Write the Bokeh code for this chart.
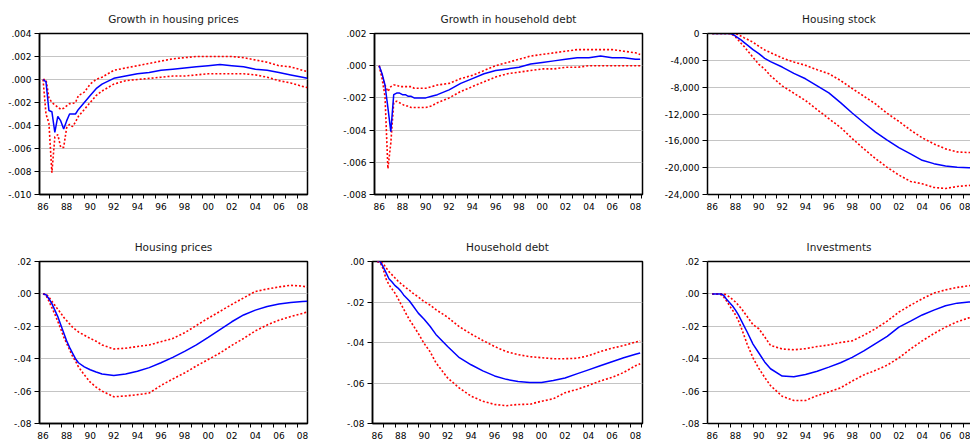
from bokeh.plotting import figure
from bokeh.models import FixedTicker, Range1d, LinearAxis
from bokeh.layouts import row, column
from bokeh.embed import file_html
from bokeh.resources import INLINE

TICK_FONT = "DejaVu Sans"
TITLE_FONT = "DejaVu Sans"

# ---------------- data ----------------
PERIODS = [1986.00, 1986.25, 1986.50, 1986.75, 1987.00, 1987.25, 1987.50, 1987.75,
           1988.00, 1988.25, 1988.50, 1988.75, 1989.00, 1989.50, 1990.00, 1990.50,
           1991.00, 1992.0, 1993.0, 1994.0, 1995.0, 1996.0, 1997.0, 1998.0, 1999.0,
           2000.0, 2001.0, 2002.0, 2003.0, 2004.0, 2005.0, 2006.0, 2007.0, 2008.0, 2008.4]

YEAR_TICKS = [1986, 1988, 1990, 1992, 1994, 1996, 1998, 2000, 2002, 2004, 2006, 2008]
YEAR_LABELS = ["86", "88", "90", "92", "94", "96", "98", "00", "02", "04", "06", "08"]
ALL_YEARS = list(range(1986, 2009))

# Growth in housing prices
GHP_IRF = [0.0000, -0.0002, -0.0027, -0.0028, -0.0046, -0.0032, -0.0036, -0.0043, -0.0036,
           -0.0030, -0.0030, -0.0030, -0.0026, -0.0020, -0.0014, -0.0008, -0.0004, 0.0001,
           0.0003, 0.0005, 0.0006, 0.0008, 0.0009, 0.0010, 0.0011, 0.0012, 0.0013, 0.0012,
           0.0011, 0.0009, 0.0008, 0.0006, 0.0004, 0.0002, 0.0001]
GHP_HI = [0.0000, 0.0000, -0.0016, -0.0020, -0.0022, -0.0024, -0.0026, -0.0025, -0.0023,
          -0.0021, -0.0021, -0.0020, -0.0014, -0.0011, -0.0004, 0.0000, 0.0002, 0.0008,
          0.0010, 0.0012, 0.0014, 0.0016, 0.0018, 0.0019, 0.0020, 0.0020, 0.0020, 0.0020,
          0.0019, 0.0017, 0.0015, 0.0012, 0.0011, 0.0008, 0.0007]
GHP_LO = [0.0000, -0.0030, -0.0038, -0.0081, -0.0050, -0.0048, -0.0059, -0.0059, -0.0042,
          -0.0039, -0.0041, -0.0037, -0.0032, -0.0026, -0.0020, -0.0014, -0.0010, -0.0004,
          -0.0001, 0.0000, 0.0001, 0.0002, 0.0003, 0.0003, 0.0004, 0.0005, 0.0005, 0.0005,
          0.0005, 0.0004, 0.0002, -0.0001, -0.0003, -0.0006, -0.0007]
GHP_TICKS = [0.004, 0.002, 0.0, -0.002, -0.004, -0.006, -0.008, -0.010]
GHP_LABELS = [".004", ".002", ".000", "-.002", "-.004", "-.006", "-.008", "-.010"]

# Growth in household debt
GHD_IRF = [0.0000, -0.0005, -0.0012, -0.0026, -0.0041, -0.0018, -0.0017, -0.0017, -0.0018,
           -0.0018, -0.0019, -0.0019, -0.0020, -0.0020, -0.0020, -0.0019, -0.0018, -0.0015,
           -0.0011, -0.0008, -0.0005, -0.0003, -0.0002, -0.0001, 0.0001, 0.0002, 0.0003,
           0.0004, 0.0005, 0.0005, 0.0006, 0.0005, 0.0005, 0.0004, 0.0004]
GHD_HI = [0.0000, -0.0006, -0.0012, -0.0016, -0.0013, -0.0012, -0.0012, -0.0013, -0.0013,
          -0.0013, -0.0013, -0.0013, -0.0014, -0.0014, -0.0014, -0.0013, -0.0012, -0.0011,
          -0.0008, -0.0006, -0.0003, 0.0000, 0.0002, 0.0004, 0.0006, 0.0007, 0.0008, 0.0009,
          0.0010, 0.0010, 0.0010, 0.0010, 0.0009, 0.0008, 0.0007]
GHD_LO = [0.0000, -0.0008, -0.0019, -0.0064, -0.0048, -0.0023, -0.0022, -0.0023, -0.0024,
          -0.0025, -0.0025, -0.0026, -0.0026, -0.0026, -0.0026, -0.0025, -0.0023, -0.0020,
          -0.0016, -0.0013, -0.0010, -0.0007, -0.0005, -0.0004, -0.0003, -0.0002, -0.0002,
          -0.0001, -0.0001, 0.0000, 0.0000, 0.0000, 0.0000, 0.0000, 0.0000]
GHD_TICKS = [0.002, 0.0, -0.002, -0.004, -0.006, -0.008]
GHD_LABELS = [".002", ".000", "-.002", "-.004", "-.006", "-.008"]

# Housing stock
HS_IRF = [0, 0, 0, 0, 0, 0, 0, -100, -400, -700, -1000, -1350, -1700, -2400, -3000, -3700,
          -4200, -5000, -5950, -6750, -7800, -8850, -10300, -11850, -13300, -14700, -15900,
          -17000, -17950, -18900, -19400, -19750, -19950, -20000, -20000]
HS_HI = [0, 0, 0, 0, 0, 0, 0, 0, 0, -200, -400, -650, -850, -1300, -1900, -2450, -2850,
         -3650, -4250, -4750, -5400, -6000, -7000, -8200, -9350, -10500, -11900, -13100,
         -14400, -15550, -16450, -17200, -17650, -17750, -17700]
HS_LO = [0, 0, 0, 0, 0, 0, 0, -200, -500, -1000, -1500, -1950, -2500, -3550, -4600, -5300,
         -6300, -7800, -8900, -10000, -11350, -12700, -14000, -15650, -17200, -18650, -19950,
         -21100, -22050, -22400, -22950, -23100, -22800, -22650, -22600]
HS_TICKS = [0, -4000, -8000, -12000, -16000, -20000, -24000]
HS_LABELS = ["0", "-4,000", "-8,000", "-12,000", "-16,000", "-20,000", "-24,000"]

# Housing prices
HP_IRF = [0.0000, -0.0005, -0.0030, -0.0060, -0.0100, -0.0140, -0.0190, -0.0240, -0.0290,
          -0.0330, -0.0365, -0.0400, -0.0425, -0.0450, -0.0468, -0.0482, -0.0494, -0.0503,
          -0.0495, -0.0478, -0.0455, -0.0425, -0.0392, -0.0355, -0.0315, -0.0268, -0.0220,
          -0.0172, -0.0130, -0.0100, -0.0078, -0.0063, -0.0053, -0.0047, -0.0045]
HP_HI = [0.0000, 0.0000, -0.0020, -0.0045, -0.0070, -0.0095, -0.0118, -0.0145, -0.0165,
         -0.0185, -0.0205, -0.0220, -0.0235, -0.0255, -0.0275, -0.0292, -0.0315, -0.0340,
         -0.0335, -0.0325, -0.0315, -0.0295, -0.0275, -0.0240, -0.0195, -0.0150, -0.0108,
         -0.0065, -0.0025, 0.0015, 0.0030, 0.0043, 0.0053, 0.0048, 0.0042]
HP_LO = [0.0000, -0.0010, -0.0045, -0.0085, -0.0125, -0.0170, -0.0215, -0.0265, -0.0305,
         -0.0345, -0.0385, -0.0415, -0.0450, -0.0500, -0.0545, -0.0575, -0.0600, -0.0635,
         -0.0630, -0.0622, -0.0612, -0.0565, -0.0525, -0.0488, -0.0445, -0.0405, -0.0365,
         -0.0318, -0.0275, -0.0228, -0.0192, -0.0162, -0.0140, -0.0120, -0.0112]
HP_TICKS = [0.02, 0.0, -0.02, -0.04, -0.06, -0.08]
HP_LABELS = [".02", ".00", "-.02", "-.04", "-.06", "-.08"]

# Household debt
HD_IRF = [0.0000, 0.0000, -0.0025, -0.0055, -0.0085, -0.0100, -0.0118, -0.0130, -0.0145,
          -0.0165, -0.0180, -0.0195, -0.0215, -0.0255, -0.0285, -0.0320, -0.0360, -0.0420,
          -0.0475, -0.0510, -0.0540, -0.0565, -0.0582, -0.0593, -0.0597, -0.0597, -0.0588,
          -0.0575, -0.0555, -0.0535, -0.0515, -0.0495, -0.0475, -0.0458, -0.0452]
HD_HI = [0.0000, 0.0000, -0.0010, -0.0030, -0.0050, -0.0065, -0.0080, -0.0095, -0.0108,
         -0.0120, -0.0132, -0.0142, -0.0155, -0.0175, -0.0198, -0.0215, -0.0238, -0.0275,
         -0.0322, -0.0358, -0.0390, -0.0420, -0.0445, -0.0460, -0.0470, -0.0475, -0.0480,
         -0.0480, -0.0478, -0.0465, -0.0445, -0.0428, -0.0415, -0.0398, -0.0392]
HD_LO = [0.0000, -0.0005, -0.0035, -0.0085, -0.0115, -0.0135, -0.0155, -0.0180, -0.0208,
         -0.0235, -0.0262, -0.0288, -0.0310, -0.0355, -0.0405, -0.0445, -0.0500, -0.0575,
         -0.0625, -0.0665, -0.0690, -0.0706, -0.0712, -0.0706, -0.0705, -0.0690, -0.0678,
         -0.0648, -0.0632, -0.0612, -0.0590, -0.0572, -0.0548, -0.0515, -0.0505]
HD_TICKS = [0.0, -0.02, -0.04, -0.06, -0.08]
HD_LABELS = [".00", "-.02", "-.04", "-.06", "-.08"]

# Investments
INV_IRF = [0.0000, 0.0000, 0.0000, 0.0000, -0.0010, -0.0035, -0.0055, -0.0075, -0.0100,
           -0.0130, -0.0165, -0.0200, -0.0235, -0.0310, -0.0365, -0.0420, -0.0462, -0.0507,
           -0.0512, -0.0498, -0.0477, -0.0452, -0.0425, -0.0392, -0.0352, -0.0307, -0.0262,
           -0.0205, -0.0168, -0.0130, -0.0100, -0.0073, -0.0057, -0.0050, -0.0050]
INV_HI = [0.0000, 0.0000, 0.0000, 0.0000, 0.0000, -0.0008, -0.0020, -0.0035, -0.0050,
          -0.0070, -0.0090, -0.0115, -0.0140, -0.0190, -0.0215, -0.0265, -0.0318, -0.0340,
          -0.0345, -0.0338, -0.0325, -0.0315, -0.0300, -0.0290, -0.0255, -0.0215, -0.0168,
          -0.0112, -0.0070, -0.0030, 0.0005, 0.0025, 0.0040, 0.0050, 0.0055]
INV_LO = [0.0000, 0.0000, 0.0000, -0.0005, -0.0020, -0.0045, -0.0075, -0.0100, -0.0130,
          -0.0165, -0.0210, -0.0260, -0.0310, -0.0395, -0.0460, -0.0515, -0.0566, -0.0632,
          -0.0658, -0.0658, -0.0628, -0.0605, -0.0580, -0.0538, -0.0500, -0.0472, -0.0440,
          -0.0395, -0.0340, -0.0290, -0.0245, -0.0205, -0.0172, -0.0148, -0.0142]


def make_panel(title, mid, hi, lo, yticks, ylabels, xr, width, left, right, title_offset,
               height, top, bottom, standoff, cut):
    p = figure(width=width, height=height,
               x_range=Range1d(xr[0], xr[1]),
               y_range=Range1d(yticks[-1], yticks[0]),
               output_backend="svg", toolbar_location=None,
               min_border_left=left, min_border_right=right,
               min_border_top=top, min_border_bottom=bottom,
               title=title)
    p.background_fill_color = "white"
    p.border_fill_color = "white"
    p.title.text_font = TITLE_FONT
    p.title.text_font_size = "10.5px"
    p.title.text_font_style = "normal"
    p.title.text_color = "#1a1a1a"
    p.title.align = "center"
    p.title.standoff = standoff
    p.title.offset = title_offset

    # y axis
    ya = p.left[0]
    ya.ticker = FixedTicker(ticks=yticks)
    ya.major_label_overrides = {t: l for t, l in zip(yticks, ylabels)}
    ya.major_tick_out = 5
    ya.major_tick_in = 0
    ya.minor_tick_line_color = None
    ya.major_label_standoff = 3
    ya.major_label_text_font = TICK_FONT
    ya.major_label_text_font_size = "9px"
    ya.major_label_text_color = "black"
    ya.axis_line_color = "black"
    ya.axis_line_width = 1.5
    ya.major_tick_line_color = "black"
    ya.major_tick_line_width = 1

    # x axis
    xa = p.below[0]
    xa.ticker = FixedTicker(ticks=YEAR_TICKS, minor_ticks=[y + 0.55 for y in ALL_YEARS])
    xa.major_label_overrides = {t: l for t, l in zip(YEAR_TICKS, YEAR_LABELS)}
    xa.major_tick_out = 0
    xa.major_tick_in = 0
    xa.minor_tick_out = 4
    xa.minor_tick_in = 0
    xa.minor_tick_line_color = "black"
    xa.minor_tick_line_width = 1
    xa.major_label_standoff = 4
    xa.major_label_text_font = TICK_FONT
    xa.major_label_text_font_size = "9px"
    xa.major_label_text_color = "black"
    xa.axis_line_color = "black"
    xa.axis_line_width = 1.5

    p.xgrid.visible = False
    p.ygrid.grid_line_color = "#c4c4c4"
    p.ygrid.grid_line_width = 1.2

    if cut:
        p.outline_line_color = None
        top_axis = LinearAxis(ticker=FixedTicker(ticks=[]),
                              major_tick_out=0, major_tick_in=0,
                              minor_tick_out=0, minor_tick_in=0,
                              major_label_text_font_size="0px",
                              axis_line_color="black", axis_line_width=1.5)
        p.add_layout(top_axis, "above")
    else:
        p.outline_line_color = "black"
        p.outline_line_width = 1.5
        p.outline_line_alpha = 1.0

    p.line(PERIODS, hi, line_color="#ff0000", line_width=1.6, line_dash="2 2")
    p.line(PERIODS, lo, line_color="#ff0000", line_width=1.6, line_dash="2 2")
    p.line(PERIODS, mid, line_color="#0000ff", line_width=1.5)
    return p


XR1 = (1985.70, 2008.42)
XR2 = (1985.60, 2008.60)
XR3 = (1985.60, 2008.14)

# columns: (width, left border, right border, title x offset)
C1 = (340, 39, 33, 0)
C2 = (315, 32, 13, 0)
C3 = (315, 52, 0, 2.5)
# rows: (height, top border, bottom border, title standoff)
R1 = (228, 33, 34, 18)
R2 = (215, 33, 20, 18)

p1 = make_panel("Growth in housing prices", GHP_IRF, GHP_HI, GHP_LO, GHP_TICKS, GHP_LABELS,
                XR1, *C1, *R1, False)
p2 = make_panel("Growth in household debt", GHD_IRF, GHD_HI, GHD_LO, GHD_TICKS, GHD_LABELS,
                XR2, *C2, *R1, False)
p3 = make_panel("Housing stock", HS_IRF, HS_HI, HS_LO, HS_TICKS, HS_LABELS,
                XR3, *C3, *R1, True)
p4 = make_panel("Housing prices", HP_IRF, HP_HI, HP_LO, HP_TICKS, HP_LABELS,
                XR1, *C1, *R2, False)
p5 = make_panel("Household debt", HD_IRF, HD_HI, HD_LO, HD_TICKS, HD_LABELS,
                XR2, *C2, *R2, False)
p6 = make_panel("Investments", INV_IRF, INV_HI, INV_LO, HP_TICKS, HP_LABELS,
                XR3, *C3, *R2, True)

layout = column(row(p1, p2, p3, spacing=0), row(p4, p5, p6, spacing=0), spacing=0)

open("out.html", "w").write(file_html(layout, INLINE))
